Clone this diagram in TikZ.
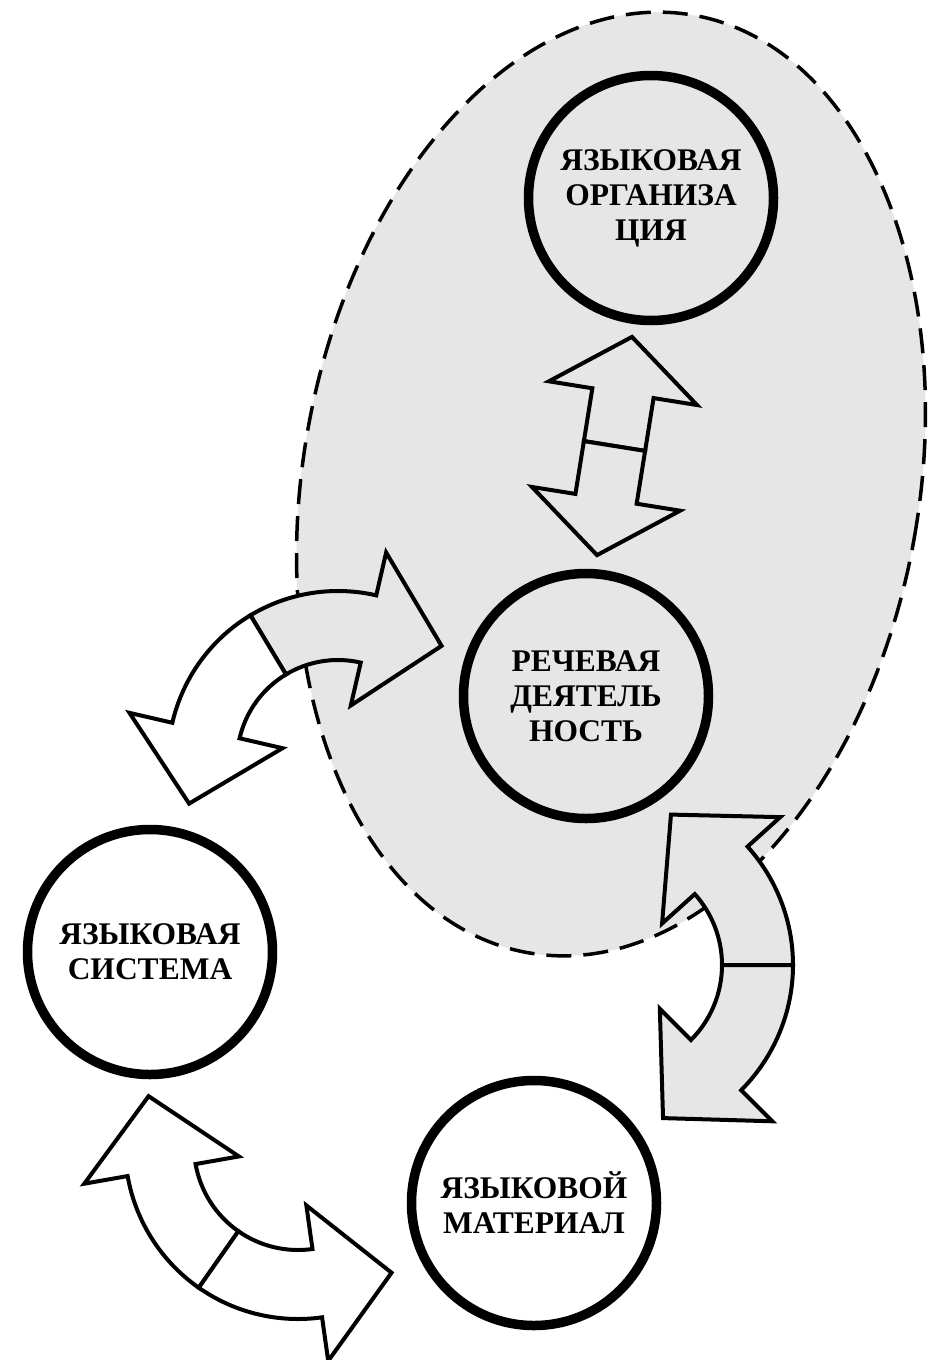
\documentclass[tikz,border=0pt]{standalone}
\usepackage{fontspec}
\setmainfont{Liberation Serif}
\usetikzlibrary{calc}
\definecolor{zonegray}{RGB}{230,230,230}
\tikzset{
    unit/.style={circle, draw, line width=9.5pt, minimum size=245pt, inner sep=0pt, align=center,
        font=\bfseries\fontsize{31.5}{35}\selectfont}, % the four thick circles
    blockarrow/.style={draw, line width=4pt, line join=miter}, % outline of the wide arrows
    zone/.style={fill=zonegray, draw, line width=3.5pt, dash pattern=on 25pt off 12pt}, % dashed oval
}
\newcommand{\headext}{44} % how far an arrow head sticks out of the band
\newcommand{\headlen}{75} % length of an arrow head
% one half of a bent double arrow: centre, inner r, outer r, head angle, divider angle, +90/-90, fill
\newcommand{\bendhalf}[7]{%
    \filldraw[blockarrow, fill=#7] ($(#1)+({#5}:{#3})$) arc[start angle=#5, end angle=#4, radius=#3]
        -- ($(#1)+({#4}:{#3+\headext})$)
        -- ($(#1)+({#4}:{(#2+#3)/2})+({#4+(#6)}:{\headlen})$)
        -- ($(#1)+({#4}:{#2-\headext})$)
        -- ($(#1)+({#4}:{#2})$) arc[start angle=#4, end angle=#5, radius=#2] -- cycle;}

\begin{document}
\begin{tikzpicture}[x=1pt, y=1pt]
    \useasboundingbox (0,0) rectangle (930,-1360);
    \draw[zone, rotate around={-10:(611,-484)}] (611,-484) ellipse[x radius=308, y radius=476];

    \node[unit] (org) at (651,-198) {ЯЗЫКОВАЯ\\ОРГАНИЗА\\ЦИЯ};
    \node[unit] (rech) at (586,-696) {РЕЧЕВАЯ\\ДЕЯТЕЛЬ\\НОСТЬ};
    \node[unit] (sys) at (150,-952) {ЯЗЫКОВАЯ\\СИСТЕМА};
    \node[unit] (mat) at (534,-1203) {ЯЗЫКОВОЙ\\МАТЕРИАЛ};

    % straight arrow org <-> rech
    \begin{scope}[shift={(614.5,-446)}, rotate=-9.1]
        \filldraw[blockarrow, fill=zonegray] (-31,0) -- (-31,53.5) -- (-75,53.5) -- (0,110.5)
            -- (75,53.5) -- (31,53.5) -- (31,0) -- cycle;
        \filldraw[blockarrow, fill=zonegray] (-31,0) -- (-31,-53.5) -- (-75,-53.5) -- (0,-110.5)
            -- (75,-53.5) -- (31,-53.5) -- (31,0) -- cycle;
    \end{scope}

    % bent arrow sys <-> rech
    \coordinate (bendA) at (338,-761);
    \bendhalf{bendA}{101}{170}{77}{121}{-90}{zonegray}
    \bendhalf{bendA}{101}{170}{167}{121}{90}{white}

    % bent arrow rech <-> mat
    \coordinate (bendB) at (616,-965);
    \bendhalf{bendB}{106}{177}{42}{0}{90}{zonegray}
    \bendhalf{bendB}{106}{177}{-45}{0}{-90}{zonegray}

    % bent arrow sys <-> mat
    \coordinate (bendC) at (298,-1146);
    \bendhalf{bendC}{104}{173}{190}{235}{-90}{white}
    \bendhalf{bendC}{104}{173}{278}{235}{90}{white}
\end{tikzpicture}
\end{document}
